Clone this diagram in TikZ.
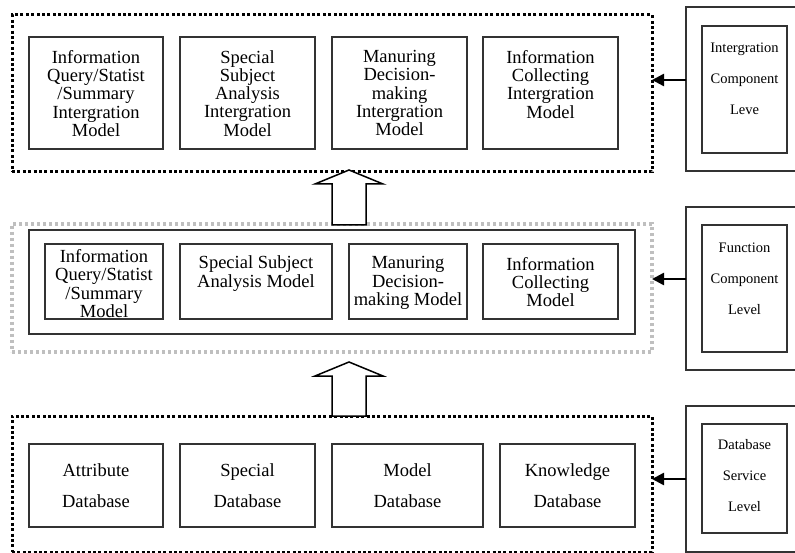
\documentclass[tikz,border=0pt]{standalone}
\usepackage{fontspec}
\setmainfont{Liberation Serif}
\usetikzlibrary{positioning,arrows.meta}

\begin{document}
\begin{tikzpicture}[
                x=1pt, y=-1pt,                 % 以像素为单位
                every node/.style={inner sep=0pt, outer sep=0pt},
                >={Triangle[length=12pt,width=12pt]},
                box/.style={rectangle, draw=black!80, line width=1.6pt},
                txt/.style={align=center, font=\fontsize{18.5}{18.3}\selectfont},
                dbtxt/.style={align=center, font=\fontsize{18.5}{31}\selectfont},
                lvltxt/.style={align=center, font=\fontsize{14.5}{31}\selectfont},
                dotbox/.style={rectangle, draw=black, line width=3pt, dash pattern=on 3pt off 2.4pt},
                graybox/.style={rectangle, draw=black!25, line width=3.2pt, dash pattern=on 3.2pt off 2.8pt},
                arrow/.style={->, line width=2.5pt},
                hollow/.style={draw=black, line width=1.5pt, fill=white, line join=miter}
            ]
                \useasboundingbox[fill=white] (0,0) rectangle (795,553);

                % 外框
                \node[dotbox, minimum width=640pt, minimum height=157pt] (intg) at (332,93.5) {};
                \node[graybox, minimum width=640pt, minimum height=128pt] (func) at (332,288) {};
                \node[box, minimum width=606pt, minimum height=104pt] (funcin) at (332,282) {};
                \node[dotbox, minimum width=640pt, minimum height=136pt] (dbs) at (332,484) {};

                % 集成构件层
                \node[box, minimum width=134pt, minimum height=111.5pt] (ic1) at (96,93) {};
                \node[box, minimum width=135pt, minimum height=111.5pt] (ic2) [right=17pt of ic1] {};
                \node[box, minimum width=135pt, minimum height=111.5pt] (ic3) [right=17pt of ic2] {};
                \node[box, minimum width=135pt, minimum height=111.5pt] (ic4) [right=16pt of ic3] {};
                \node[txt, below=13pt of ic1.north] (ic1t) {Information\\Query/Statist\\/Summary\\Intergration\\Model};
                \node[txt, below=13pt of ic2.north] (ic2t) {Special\\Subject\\Analysis\\Intergration\\Model};
                \node[txt, below=13pt of ic3.north] (ic3t) {Manuring\\Decision-\\making\\Intergration\\Model};
                \node[txt, below=13pt of ic4.north] (ic4t) {Information\\Collecting\\Intergration\\Model};

                % 功能构件层
                \node[box, minimum width=118pt, minimum height=75pt] (fc1) at (104,281.5) {};
                \node[box, minimum width=152pt, minimum height=75pt] (fc2) [right=17pt of fc1] {};
                \node[box, minimum width=118pt, minimum height=75pt] (fc3) [right=17pt of fc2] {};
                \node[box, minimum width=135pt, minimum height=75pt] (fc4) [right=16pt of fc3] {};
                \node[txt, below=5.5pt of fc1.north] (fc1t) {Information\\Query/Statist\\/Summary\\Model};
                \node[txt, below=12pt of fc2.north] (fc2t) {Special Subject\\Analysis Model};
                \node[txt, below=12.5pt of fc3.north] (fc3t) {Manuring\\Decision-\\making Model};
                \node[txt, below=13pt of fc4.north] (fc4t) {Information\\Collecting\\Model};

                % 数据库服务层
                \node[box, dbtxt, minimum width=134pt, minimum height=83pt] (db1) at (96,485.5) {Attribute\\Database};
                \node[box, dbtxt, minimum width=135pt, minimum height=83pt] (db2) [right=17pt of db1] {Special\\Database};
                \node[box, dbtxt, minimum width=151pt, minimum height=83pt] (db3) [right=17pt of db2] {Model\\Database};
                \node[box, dbtxt, minimum width=135pt, minimum height=83pt] (db4) [right=17pt of db3] {Knowledge\\Database};

                % 右侧层次
                \node[box, minimum width=134pt, minimum height=164pt] (lvl1) at (753,89) {};
                \node[box, minimum width=85pt, minimum height=127pt] (lvl1in) at (744.5,89.5) {};
                \node[lvltxt] (lvl1t) at ([yshift=10.5pt]lvl1in.center) {Intergration\\Component\\Leve};
                \node[box, minimum width=134pt, minimum height=163pt] (lvl2) at (753,288.5) {};
                \node[box, minimum width=85pt, minimum height=127pt] (lvl2in) at (744.5,288.5) {};
                \node[lvltxt] (lvl2t) at ([yshift=9.5pt]lvl2in.center) {Function\\Component\\Level};
                \node[box, minimum width=134pt, minimum height=146pt] (lvl3) at (753,479) {};
                \node[box, minimum width=85pt, minimum height=109pt] (lvl3in) at (744.5,478.5) {};
                \node[lvltxt] (lvl3t) at ([yshift=2.5pt]lvl3in.center) {Database\\Service\\Level};

                % 边
                \draw[arrow] ([yshift=9pt]lvl1.west) -- ([yshift=9pt]lvl1.west -| intg.east);
                \draw[arrow] ([yshift=9.5pt]lvl2.west) -- ([yshift=9.5pt]lvl2.west -| func.east);
                \draw[arrow] (lvl3.west) -- (lvl3.west -| dbs.east);

                % 空心箭头
                \coordinate (up1) at (349,170);
                \coordinate (up2) at (349,362);
                \draw[hollow] (up1) -- ++(34,14) -- ++(-17,0) -- ++(0,41) -- ++(-34,0) -- ++(0,-41) -- ++(-17,0) -- cycle;
                \draw[hollow] (up2) -- ++(34,14) -- ++(-17,0) -- ++(0,40) -- ++(-34,0) -- ++(0,-40) -- ++(-17,0) -- cycle;
            \end{tikzpicture}
\end{document}
